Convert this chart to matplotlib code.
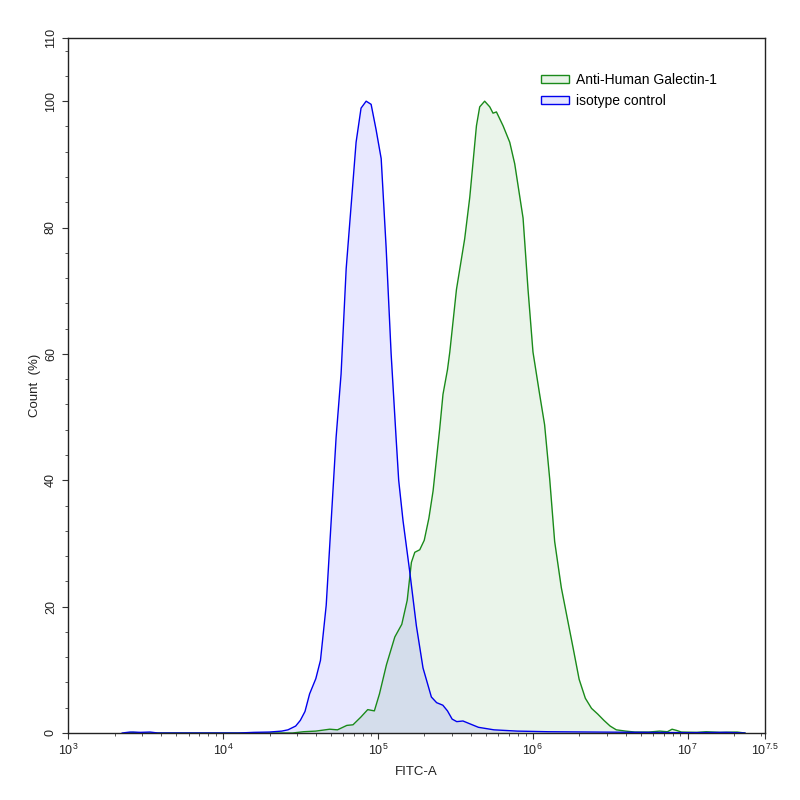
import numpy as np
import matplotlib
matplotlib.use("Agg")
import matplotlib.pyplot as plt
from matplotlib.patches import Patch
from matplotlib.ticker import FixedLocator, NullFormatter, MultipleLocator

plt.rcParams['font.family'] = ['Liberation Sans', 'DejaVu Sans']
plt.rcParams['mathtext.fontset'] = 'custom'
plt.rcParams['mathtext.rm'] = 'Liberation Sans'
plt.rcParams['mathtext.it'] = 'Liberation Sans'

# ---- data (log10 FITC-A, Count %) ----
iso_log = [3.35, 3.40, 3.47, 3.53, 3.58, 4.10, 4.20, 4.30, 4.38, 4.42, 4.47, 4.50, 4.53,
           4.56, 4.60, 4.63, 4.667, 4.699, 4.731, 4.763, 4.796, 4.828, 4.860, 4.892,
           4.925, 4.957, 4.989, 5.022, 5.054, 5.086, 5.118, 5.135, 5.163, 5.206, 5.249,
           5.292, 5.346, 5.38, 5.42, 5.45, 5.48, 5.51, 5.55, 5.59, 5.65, 5.75, 5.90,
           6.10, 6.40, 6.70, 7.00, 7.25, 7.37]
iso_cnt = [0, 0.15, 0.1, 0.15, 0, 0, 0.1, 0.15, 0.3, 0.5, 1.1, 2.0, 3.4,
           6.2, 8.6, 11.5, 20.2, 33.5, 46.8, 56.8, 73.5, 83.5, 93.5, 98.9,
           100, 99.5, 95.5, 90.9, 76.8, 60.1, 46.8, 40.0, 33.6, 25.6, 17.0,
           10.3, 5.7, 4.8, 4.4, 3.5, 2.2, 1.8, 1.9, 1.5, 0.9, 0.5, 0.3,
           0.2, 0.15, 0.1, 0.05, 0.1, 0]

gal_log = [3.38, 3.42, 3.48, 4.45, 4.52, 4.60, 4.69, 4.74, 4.80, 4.84, 4.89, 4.935,
           4.978, 5.011, 5.056, 5.11, 5.155, 5.19, 5.217, 5.239, 5.271, 5.30, 5.33,
           5.357, 5.40, 5.421, 5.45, 5.465, 5.508, 5.561, 5.594, 5.637, 5.658, 5.690,
           5.723, 5.744, 5.766, 5.809, 5.852, 5.884, 5.938, 5.970, 6.002, 6.045,
           6.077, 6.110, 6.142, 6.185, 6.228, 6.260, 6.30, 6.34, 6.38, 6.42, 6.46,
           6.50, 6.54, 6.60, 6.66, 6.75, 6.82, 6.87, 6.90, 6.93, 6.96, 7.06, 7.12,
           7.21, 7.32, 7.37]
gal_cnt = [0, 0.1, 0, 0, 0.2, 0.3, 0.6, 0.5, 1.2, 1.3, 2.5, 3.7,
           3.5, 6.2, 10.8, 15.2, 17.2, 21.0, 27.0, 28.6, 29.0, 30.5, 34.0,
           38.3, 48.2, 53.6, 57.5, 60.3, 70.2, 78.2, 84.8, 96.1, 99.1, 100,
           99.1, 98.1, 98.3, 96.1, 93.5, 90.1, 81.5, 70.2, 60.3, 53.6,
           48.8, 40.2, 30.3, 23.0, 17.6, 13.6, 8.5, 5.5, 3.9, 3.0, 2.0,
           1.1, 0.5, 0.3, 0.15, 0.15, 0.3, 0.2, 0.6, 0.4, 0.15, 0.1, 0.2,
           0.1, 0.15, 0]

series_labels = ["Anti-Human Galectin-1", "isotype control"]
x_tick_exps = [3, 4, 5, 6, 7, 7.5]
x_tick_labels = ["$10^{3}$", "$10^{4}$", "$10^{5}$", "$10^{6}$", "$10^{7}$", "$10^{7.5}$"]
y_ticks = [0, 20, 40, 60, 80, 100, 110]

blue = "#0000ee"
green = "#1a8a1a"

fig = plt.figure(figsize=(8, 8), dpi=100)
ax = fig.add_axes([68/800, 1-733/800, (765-68)/800, (733-38)/800])

gx = 10 ** np.array(gal_log)
ix = 10 ** np.array(iso_log)

ax.fill_between(gx, 0, gal_cnt, color=green, alpha=0.09, lw=0, zorder=1)
ax.fill_between(ix, 0, iso_cnt, color="#0000ff", alpha=0.09, lw=0, zorder=1.1)
ax.plot(gx, gal_cnt, color=green, lw=1.0, zorder=2)
ax.plot(ix, iso_cnt, color=blue, lw=1.0, zorder=2.1)

ax.set_xscale('log')
ax.set_xlim(10**3, 10**7.5)
ax.set_ylim(0, 110)

ax.xaxis.set_major_locator(FixedLocator([10**e for e in x_tick_exps]))
ax.set_xticklabels(x_tick_labels)
minors = [m * 10**d for d in range(3, 8) for m in range(2, 10) if m * 10**d < 10**7.5]
ax.xaxis.set_minor_locator(FixedLocator(minors))
ax.xaxis.set_minor_formatter(NullFormatter())

ax.set_yticks(y_ticks)
ax.yaxis.set_minor_locator(MultipleLocator(4))
for lab in ax.get_yticklabels():
    lab.set_rotation(90)
    lab.set_va('center')

ax.tick_params(axis='both', which='major', direction='out', length=4, width=0.8,
               color='#333333', labelsize=9, labelcolor='#222222')
ax.tick_params(axis='both', which='minor', direction='out', length=2.5, width=0.7,
               color='#555555')
ax.tick_params(axis='y', pad=4)
ax.tick_params(axis='x', pad=3)

for sp in ax.spines.values():
    sp.set_linewidth(1.0)
    sp.set_color('#222222')

ax.set_xlabel("FITC-A", fontsize=9.5, labelpad=6, color='#222222')
ax.set_ylabel("Count  (%)", fontsize=9.5, labelpad=3, color='#222222')

handles = [Patch(facecolor=(0.1, 0.54, 0.1, 0.1), edgecolor=green, lw=1.0),
           Patch(facecolor=(0, 0, 1, 0.1), edgecolor=blue, lw=1.0)]
fig.legend(handles, series_labels, loc='upper left',
           bbox_to_anchor=(541/800, 1-73/800), frameon=False, fontsize=10,
           handlelength=2.0, handleheight=0.55, handletextpad=0.5,
           labelspacing=0.5, borderpad=0, borderaxespad=0)

fig.savefig("out.png", dpi=100)
